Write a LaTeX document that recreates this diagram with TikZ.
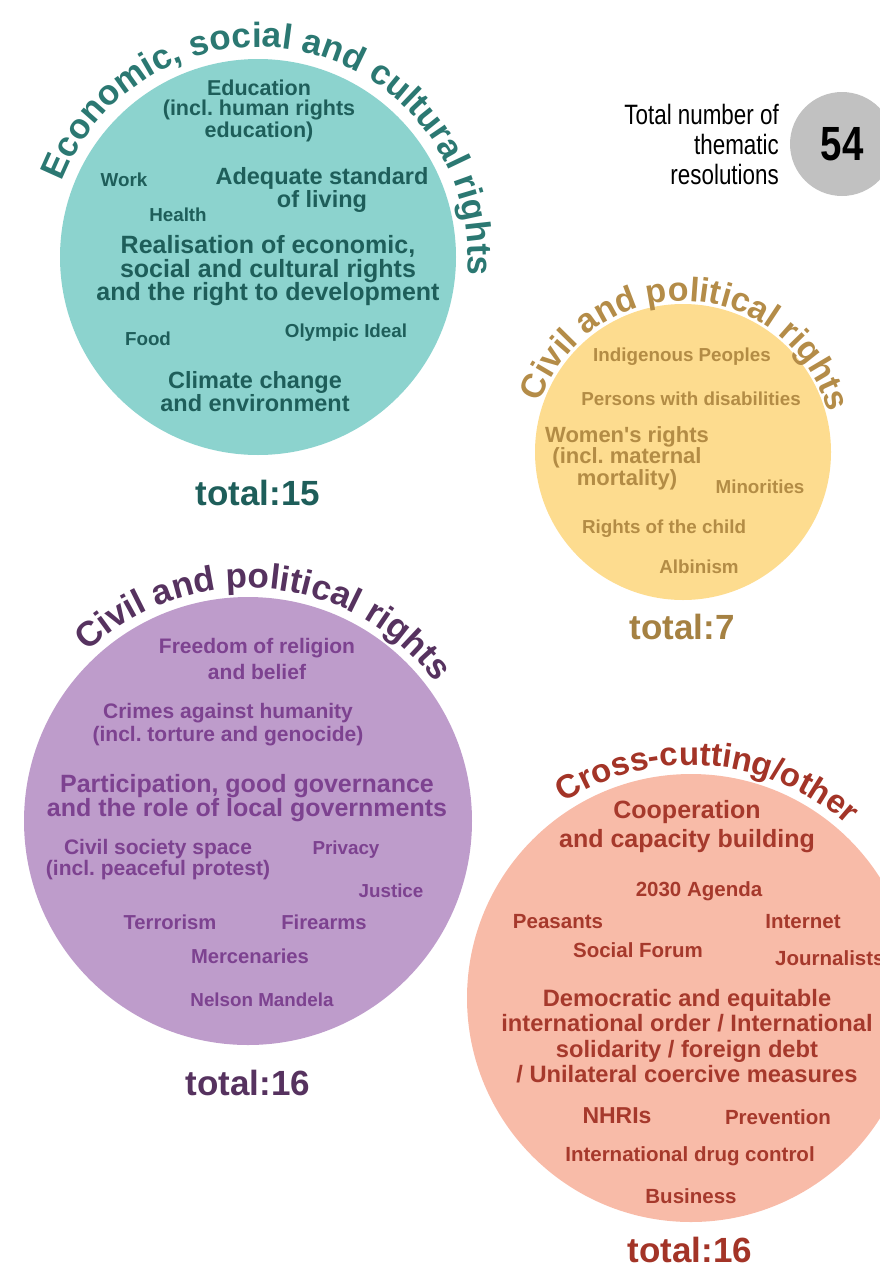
\documentclass[tikz,border=0pt]{standalone}
\usepackage{fontspec}
\setmainfont{Liberation Sans}
\newfontfamily\condfont[FakeStretch=0.8]{Liberation Sans}
\usetikzlibrary{decorations.text}
\newcommand{\arcfont}{\bfseries\fontsize{35}{35}\selectfont}
\frenchspacing

\begin{document}
\begin{tikzpicture}[x=1pt,y=1pt,
  bubble/.style={circle,inner sep=0pt,minimum size=#1},
  topic/.style={font=\bfseries\fontsize{18.8}{19}\selectfont,align=center,inner sep=0pt},
  topicmid/.style={font=\bfseries\fontsize{21.5}{20}\selectfont,align=center,inner sep=0pt},
  topicbig/.style={font=\bfseries\fontsize{25}{23.5}\selectfont,align=center,inner sep=0pt},
  tally/.style={font=\bfseries\fontsize{35}{35}\selectfont,inner sep=0pt}]
\definecolor{ecofill}{HTML}{8CD3CE}
\definecolor{ecotext}{HTML}{1E5E5A}
\definecolor{ecotitle}{HTML}{2B7872}
\definecolor{civfill}{HTML}{FDDC8F}
\definecolor{civtext}{HTML}{B38C45}
\definecolor{civtitle}{HTML}{B48C48}
\definecolor{poltext}{HTML}{7D4290}
\definecolor{polfill}{HTML}{BE9CCB}
\definecolor{poltitle}{HTML}{56325F}
\definecolor{crossfill}{HTML}{F8BBA8}
\definecolor{crosstext}{HTML}{A6392C}
\definecolor{crosstitle}{HTML}{A33427}
\definecolor{totgrey}{HTML}{C1C1C1}
\useasboundingbox (0,0) rectangle (880,-1266);
\clip (0,0) rectangle (880,-1266);

% Economic, social and cultural rights
\node[bubble=396pt,fill=ecofill] (ecobub) at (258,-257) {};
\path[shift={(ecobub.center)},decorate,decoration={text along path,text align=center,
  text color=ecotitle,text={|\arcfont|Economic, social and cultural rights}}]
  (177:210) arc[start angle=177,end angle=-23,radius=210];
\begin{scope}[text=ecotext]
\node[topicmid] (educ) at (259,-111) {Education\\(incl. human rights\\education)};
\node[topic] (work) at (124,-180) {Work};
\node[topicbig,font=\bfseries\fontsize{23.5}{21}\selectfont] (living) at (322,-190) {Adequate standard\\of living};
\node[topic] (health) at (178,-215) {Health};
\node[topicbig] (realis) at (268,-271) {Realisation of economic,\\social and cultural rights\\and the right to development};
\node[topic] (food) at (148,-339) {Food};
\node[topic] (olymp) at (346,-333) {Olympic Ideal};
\node[topicbig,font=\bfseries\fontsize{23.5}{19.5}\selectfont] (climate) at (255,-392) {Climate change\\and environment};
\node[tally] (ecotot) at (258,-493) {total:15};
\end{scope}

% Total number of thematic resolutions
\node[bubble=104pt,fill=totgrey] (totbub) at (842,-144) {};
\node[font=\condfont\bfseries\fontsize{48}{48}\selectfont,inner sep=0pt] (totnum) at (totbub) {54};
\node[font=\condfont\fontsize{28}{30}\selectfont,align=right,anchor=east,inner sep=0pt] (totlbl) at (779,-144) {Total number of\\thematic\hspace{6pt}\\resolutions};

% Civil and political rights (7)
\node[bubble=296pt,fill=civfill] (civbub) at (683,-452) {};
\path[shift={(civbub.center)},decorate,decoration={text along path,text align=center,
  text color=civtitle,text={|\bfseries\fontsize{34}{34}\selectfont|Civil and political rights}}]
  (188:151) arc[start angle=188,end angle=-12,radius=151];
\begin{scope}[text=civtext]
\node[topic] (indig) at (682,-357) {Indigenous Peoples};
\node[topic] (disab) at (691,-399) {Persons with disabilities};
\node[topicmid,font=\bfseries\fontsize{22}{19}\selectfont] (women) at (627,-458) {Women\textquotesingle s rights\\(incl. maternal\\mortality)};
\node[topic] (minor) at (760,-487) {Minorities};
\node[topic] (child) at (664,-529) {Rights of the child};
\node[topic] (albin) at (699,-567) {Albinism};
\node[tally,text=civtitle!92!black] (civtot) at (682,-627) {total:7};
\end{scope}

% Civil and political rights (16)
\node[bubble=448pt,fill=polfill] (polbub) at (248,-821) {};
\path[shift={(polbub.center)},decorate,decoration={text along path,text align=center,
  text color=poltitle,text={|\arcfont|Civil and political rights}}]
  (185:233) arc[start angle=185,end angle=-15,radius=233];
\begin{scope}[text=poltext]
\node[topicmid,font=\bfseries\fontsize{21}{26}\selectfont] (relig) at (257,-659) {Freedom of religion\\and belief};
\node[topicmid,font=\bfseries\fontsize{21}{23}\selectfont] (crimes) at (228,-725) {Crimes against humanity\\(incl. torture and genocide)};
\node[topicbig,font=\bfseries\fontsize{25}{24}\selectfont] (partic) at (247,-798) {Participation, good governance\\and the role of local governments};
\node[topicmid,font=\bfseries\fontsize{21}{21}\selectfont] (civsoc) at (158,-860) {Civil society space\\(incl. peaceful protest)};
\node[topic] (priv) at (346,-850) {Privacy};
\node[topic] (just) at (391,-891) {Justice};
\node[topic,font=\bfseries\fontsize{20.2}{20}\selectfont] (terror) at (170,-922) {Terrorism};
\node[topic,font=\bfseries\fontsize{20.2}{20}\selectfont] (fire) at (324,-922) {Firearms};
\node[topic,font=\bfseries\fontsize{20.2}{20}\selectfont] (merc) at (250,-956) {Mercenaries};
\node[topic] (mandela) at (262,-1000) {Nelson Mandela};
\node[tally,text=poltitle] (poltot) at (248,-1083) {total:16};
\end{scope}

% Cross-cutting/other
\node[bubble=448pt,fill=crossfill] (crossbub) at (691,-998) {};
\path[shift={(crossbub.center)},decorate,decoration={text along path,text align=center,
  text color=crosstitle,text={|\bfseries\fontsize{33}{33}\selectfont|Cross-cutting/other}}]
  (185.5:233) arc[start angle=185.5,end angle=-14.5,radius=233];
\begin{scope}[text=crosstext]
\node[topicbig,font=\bfseries\fontsize{25}{29}\selectfont] (coop) at (687,-827) {Cooperation\\and capacity building};
\node[topic,font=\bfseries\fontsize{20.5}{20}\selectfont] (agenda) at (699,-891) {2030 Agenda};
\node[topic,font=\bfseries\fontsize{20.5}{20}\selectfont] (peas) at (558,-922) {Peasants};
\node[topic,font=\bfseries\fontsize{20.5}{20}\selectfont] (inet) at (803,-922) {Internet};
\node[topic,font=\bfseries\fontsize{20.5}{20}\selectfont] (forum) at (638,-950) {Social Forum};
\node[topic,font=\bfseries\fontsize{20.5}{20}\selectfont,anchor=west] (journ) at (775,-958) {Journalists};
\node[topicbig,font=\bfseries\fontsize{23.7}{25.5}\selectfont] (democ) at (687,-1036) {Democratic and equitable\\international order / International\\solidarity / foreign debt\\/ Unilateral coercive measures};
\node[topicbig,font=\bfseries\fontsize{23}{23}\selectfont] (nhri) at (617,-1116) {NHRIs};
\node[topic,font=\bfseries\fontsize{20.5}{20}\selectfont] (prev) at (778,-1117) {Prevention};
\node[topic,font=\bfseries\fontsize{20.5}{20}\selectfont] (drug) at (690,-1156) {International drug control};
\node[topic,font=\bfseries\fontsize{20.5}{20}\selectfont] (busin) at (691,-1196) {Business};
\node[tally,text=crosstitle] (crosstot) at (690,-1250) {total:16};
\end{scope}
\end{tikzpicture}
\end{document}
